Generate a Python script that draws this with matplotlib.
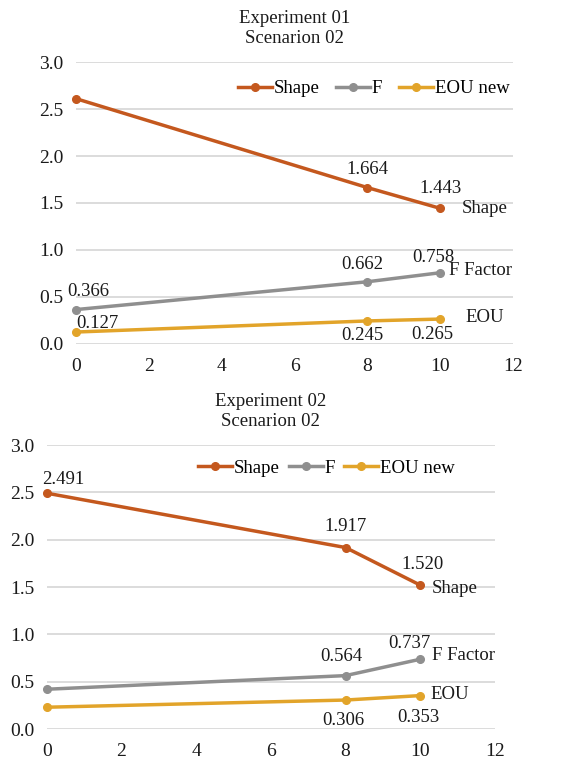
import matplotlib
matplotlib.use("Agg")
import matplotlib.pyplot as plt

# data
x = [0, 8, 10]
series_names = ["Shape", "F", "EOU new"]
end_labels = ["Shape", "F Factor", "EOU"]

exp1_title = "Experiment 01\nScenarion 02"
exp1_shape = [2.61, 1.664, 1.443]
exp1_f = [0.366, 0.662, 0.758]
exp1_eou = [0.127, 0.245, 0.265]
exp1_shown = [[False, True, True], [True, True, True], [True, True, True]]

exp2_title = "Experiment 02\nScenarion 02"
exp2_shape = [2.491, 1.917, 1.520]
exp2_f = [0.42, 0.564, 0.737]
exp2_eou = [0.23, 0.306, 0.353]
exp2_shown = [[True, True, True], [False, True, True], [False, True, True]]

colors = ["#C4581E", "#8F8F8F", "#E2A42A"]

plt.rcParams["font.family"] = ["Liberation Serif", "DejaVu Serif"]

# pixel offsets for value labels, per panel / series / point
exp1_offs = [[(0, 0), (0, 18), (0, 20)],
             [(12, 18), (-5, 17), (-7, 15)],
             [(21, 9), (-5, -15), (-8, -15)]]
exp2_offs = [[(16, 14), (0, 21), (2, 21)],
             [(0, 0), (-4, 19), (-11, 16)],
             [(0, 0), (-2, -20), (-2, -22)]]
exp1_end = [(22, 0), (9, 2), (25, 2)]
exp2_end = [(12, -3), (12, 4), (10, 1)]


def panel(ax, title, ys, shown, offs, end_offs, leg_anchor, colsp):
    for i, y in enumerate(ys):
        ax.plot(x, y, color=colors[i], lw=2.5, marker="o", ms=5.5,
                label=series_names[i], zorder=3, clip_on=False)
        for j in range(len(x)):
            if not shown[i][j]:
                continue
            ax.annotate(f"{y[j]:.3f}", (x[j], y[j]), xytext=offs[i][j],
                        textcoords="offset pixels", ha="center", va="center",
                        fontsize=13.5, color="#1a1a1a")
        ax.annotate(end_labels[i], (x[-1], y[-1]), xytext=end_offs[i],
                    textcoords="offset pixels", ha="left", va="center",
                    fontsize=13.5, color="#1a1a1a")
    ax.set_xlim(0, 12)
    ax.set_ylim(0, 3.0)
    ax.set_xticks(range(0, 13, 2))
    ax.set_yticks([0, 0.5, 1.0, 1.5, 2.0, 2.5, 3.0])
    ax.set_yticklabels([f"{v:.1f}" for v in ax.get_yticks()])
    ax.tick_params(length=0, labelsize=14, colors="#1a1a1a")
    ax.tick_params(axis="x", pad=10)
    ax.tick_params(axis="y", pad=9)
    ax.grid(axis="y", color="#d6d6d6", lw=1.2, zorder=0)
    for s in ax.spines.values():
        s.set_visible(False)
    ax.set_title(title, fontsize=13.5, linespacing=1.2, pad=14, color="#1a1a1a")
    ax.legend(loc="center", bbox_to_anchor=leg_anchor, ncol=3, frameon=False,
              fontsize=13.5, handlelength=1.8, handletextpad=0.1,
              columnspacing=colsp, borderaxespad=0)


fig = plt.figure(figsize=(5.85, 7.62), dpi=100)
ax1 = fig.add_axes([0.130, 0.5486, 0.747, 0.370])
ax2 = fig.add_axes([0.080, 0.0433, 0.766, 0.3727])

panel(ax1, exp1_title, [exp1_shape, exp1_f, exp1_eou], exp1_shown,
      exp1_offs, exp1_end, (0.681, 0.905), 0.9)
panel(ax2, exp2_title, [exp2_shape, exp2_f, exp2_eou], exp2_shown,
      exp2_offs, exp2_end, (0.624, 0.919), 0.5)

fig.savefig("out.png", dpi=100)
